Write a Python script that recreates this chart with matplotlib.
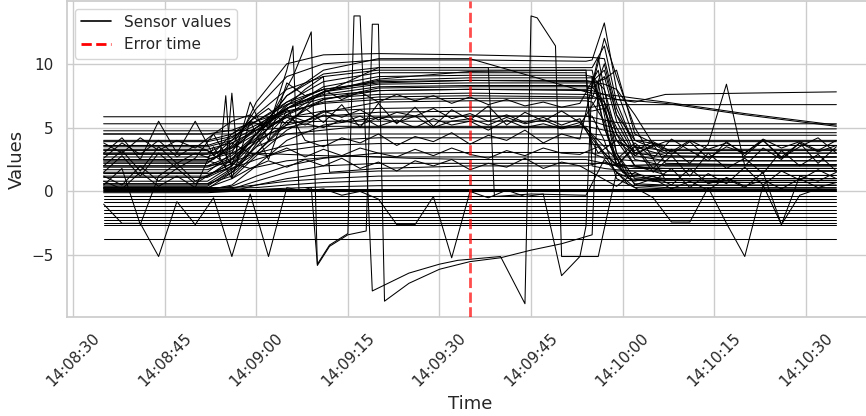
import numpy as np
import pandas as pd
import matplotlib
matplotlib.use("Agg")
import matplotlib.pyplot as plt
import matplotlib.dates as mdates
from matplotlib.lines import Line2D
import seaborn as sns

# ========= data (seconds after 14:08:35) =========
start = pd.Timestamp("2024-01-01 14:08:35")
error_time = pd.Timestamp("2024-01-01 14:09:35")

# sensors that stay flat the whole window
flat_levels = [-3.75, -2.65, -2.45, -2.25, -2.0, -1.7, -1.45, -1.15, -0.85,
               -0.6, -0.35, 0.0, 0.15, 0.2]

# sensors that ramp up, hold a plateau and drop back (values at ramp_t)
ramp_t = [0, 17, 21, 25, 30, 36, 45, 60, 79, 80, 82, 84, 87, 92, 105, 120]
ramp_values = [
    [1.5, 1.5, 3.0, 7.0, 10.0, 10.7, 10.8, 10.7, 10.5, 10.5, 10.4, 6.5, 3.5, 2.8, 2.7, 2.7],
    [2.2, 2.2, 3.6, 6.5, 9.0, 10.0, 10.3, 10.3, 10.2, 10.3, 13.2, 8.0, 4.0, 3.0, 3.0, 3.0],
    [0.8, 0.8, 2.0, 4.5, 7.5, 9.2, 9.7, 9.7, 9.7, 9.7, 11.4, 7.0, 3.5, 3.2, 3.2, 3.2],
    [3.0, 3.0, 4.0, 6.0, 8.0, 9.0, 9.5, 9.5, 9.5, 3.0, 2.6, 2.5, 2.4, 2.4, 2.4, 2.4],
    [2.5, 2.5, 3.2, 5.0, 7.0, 8.6, 9.3, 9.3, 9.3, 2.0, 1.8, 1.7, 1.6, 1.6, 1.6, 1.6],
    [1.1, 1.1, 2.0, 4.0, 6.5, 8.2, 9.0, 9.1, 9.1, 9.0, 8.0, 4.5, 2.0, 1.3, 1.25, 1.25],
    [0.5, 0.5, 1.5, 3.5, 6.0, 7.8, 8.7, 8.9, 8.9, 8.9, 6.5, 3.0, 1.0, 0.9, 0.85, 0.85],
    [3.6, 3.6, 4.2, 5.5, 7.0, 8.0, 8.5, 8.7, 8.7, 8.6, 9.5, 6.0, 4.0, 3.6, 3.6, 3.6],
    [2.0, 2.0, 2.8, 4.5, 6.5, 7.6, 8.2, 8.3, 8.3, 8.2, 7.0, 5.0, 2.5, 2.0, 2.0, 2.0],
    [4.0, 4.0, 4.5, 5.5, 6.8, 7.5, 7.9, 8.0, 7.9, 7.9, 7.6, 7.2, 7.0, 7.6, 7.7, 7.8],
    [2.7, 2.7, 3.5, 5.0, 6.5, 7.3, 7.6, 7.7, 7.6, 7.5, 7.0, 4.5, 3.0, 2.7, 2.7, 2.7],
    [1.7, 1.7, 2.5, 4.5, 7.5, 9.5, 10.4, 10.4, 7.8, 7.7, 7.6, 7.5, 7.3, 7.0, 6.1, 5.2],
    [4.5, 4.5, 4.8, 5.5, 6.3, 6.9, 7.2, 7.3, 7.3, 7.3, 7.3, 7.2, 7.1, 6.9, 6.0, 5.1],
    [0.3, 0.3, 1.0, 2.8, 4.8, 6.2, 7.0, 7.1, 7.1, 7.0, 5.5, 2.0, 0.6, 0.5, 0.5, 0.5],
    [3.3, 3.3, 3.8, 4.8, 5.8, 6.3, 6.5, 6.6, 6.6, 6.6, 6.8, 6.8, 6.8, 6.8, 6.8, 6.8],
    [2.5, 2.5, 3.0, 4.0, 5.2, 5.9, 6.2, 6.3, 6.3, 6.3, 6.5, 4.0, 2.0, 1.6, 1.6, 1.6],
    [0.1, 0.1, 0.5, 2.0, 4.0, 5.2, 5.8, 5.9, 5.9, 5.9, 4.0, 1.0, 0.3, 0.2, 0.2, 0.2],
    [5.85, 5.85, 5.85, 5.85, 5.85, 5.9, 5.9, 5.9, 5.9, 5.8, 5.6, 5.4, 5.3, 5.3, 5.3, 5.3],
    [5.3, 5.3, 5.3, 5.3, 5.4, 5.5, 5.5, 5.5, 5.5, 5.5, 5.2, 4.9, 4.9, 4.9, 4.9, 4.9],
    [4.75, 4.75, 4.75, 4.8, 5.0, 5.1, 5.1, 5.1, 5.1, 5.0, 4.8, 4.6, 4.6, 4.6, 4.6, 4.6],
    [4.5, 4.5, 4.5, 4.5, 4.5, 4.5, 4.5, 4.5, 4.5, 4.5, 4.4, 4.4, 4.4, 4.4, 4.4, 4.4],
    [2.0, 2.0, 2.3, 3.0, 3.6, 4.0, 4.2, 4.2, 4.2, 4.2, 4.0, 4.0, 4.0, 4.0, 4.0, 4.0],
    [1.4, 1.4, 1.8, 2.5, 3.2, 3.6, 3.75, 3.75, 3.75, 3.7, 3.6, 3.6, 3.6, 3.6, 3.6, 3.6],
    [0.2, 0.2, 0.4, 1.2, 2.0, 2.6, 3.0, 3.05, 3.05, 3.0, 3.0, 3.0, 3.0, 3.0, 3.0, 3.0],
    [3.0, 3.0, 3.0, 3.0, 2.9, 2.8, 2.7, 2.7, 2.7, 2.7, 2.7, 2.7, 2.7, 2.7, 2.7, 2.7],
    [0.0, 0.0, 0.2, 0.8, 1.5, 2.0, 2.2, 2.2, 2.2, 2.2, 2.2, 2.0, 2.0, 2.0, 2.0, 2.0],
    [-0.1, -0.1, 0.0, 0.5, 1.0, 1.4, 1.6, 1.6, 1.6, 1.6, 1.6, 1.6, 1.6, 1.6, 1.6, 1.6],
    [0.3, 0.3, 0.3, 0.5, 0.8, 1.0, 1.2, 1.25, 1.25, 1.25, 1.25, 1.25, 1.25, 1.25, 1.25, 1.25],
    [0.25, 0.25, 0.25, 0.3, 0.5, 0.7, 0.85, 0.85, 0.85, 0.85, 0.85, 0.85, 0.85, 0.85, 0.85, 0.85],
    [0.1, 0.1, 0.1, 0.15, 0.25, 0.35, 0.45, 0.47, 0.47, 0.47, 0.47, 0.47, 0.47, 0.47, 0.47, 0.47],
    [3.9, 3.9, 4.3, 5.2, 6.5, 7.8, 8.8, 9.4, 9.5, 9.5, 5.0, 2.2, 1.9, 1.8, 1.8, 1.8],
    [1.9, 1.9, 2.6, 4.2, 6.0, 7.2, 7.9, 8.0, 8.0, 8.1, 9.0, 5.5, 2.8, 2.4, 2.4, 2.4],
    [2.9, 2.9, 3.4, 4.8, 6.5, 7.8, 8.4, 8.5, 8.5, 8.5, 8.8, 9.5, 4.5, 3.3, 3.3, 3.3],
    [1.2, 1.2, 2.2, 4.5, 6.8, 8.0, 8.6, 8.7, 8.6, 8.6, 8.4, 8.0, 6.0, 2.2, 2.1, 2.1],
    [3.5, 3.5, 4.0, 5.0, 6.2, 7.0, 7.4, 7.5, 7.4, 7.3, 10.0, 6.0, 3.0, 3.9, 3.9, 3.9],
    [0.6, 0.6, 1.2, 3.0, 5.5, 7.2, 8.1, 8.2, 8.2, 8.2, 12.0, 9.0, 5.0, 0.9, 0.7, 0.7],
]

# noisy sensors, one value every 3 s
noisy_step = 3
noisy_values = [
    [-1.0, -2.5, -2.5, -5.1, -0.8, -2.6, -0.5, -5.1, -0.2, -5.1,
     0.3, 0.0, 0.2, -0.3, 0.0, -0.6, -2.6, -2.6, -0.4, -5.2,
     0.0, -0.5, 0.1, -0.4, -0.2, -6.6, -5.1, -5.1, 1.5, 0.3,
     -0.5, -2.4, -2.4, 0.3, -2.5, -5.1, 0.5, -2.6, -0.3, 0.2, 0.0],
    [0.5, 1.8, -2.6, 1.2, 2.2, 0.8, 1.5, 2.5, 3.5, 4.5,
     5.0, 5.3, 5.0, 5.6, 5.2, 5.8, 5.4, 5.9, 5.0, 5.5,
     5.7, 5.2, 5.8, 5.3, 5.6, 5.0, 5.4, 3.5, 1.5, 0.8,
     1.2, 0.5, 1.8, 0.6, 1.0, 0.3, 1.5, -2.6, 1.2, 0.8, 1.5],
    [3.0, 4.2, 2.5, 5.5, 3.0, 5.5, 2.8, 4.0, 5.5, 6.5,
     5.2, 6.5, 5.4, 6.8, 5.0, 6.9, 5.3, 6.6, 5.1, 6.4,
     5.6, 6.7, 5.2, 6.2, 5.5, 6.3, 5.4, 4.0, 2.5, 3.8,
     2.6, 4.1, 3.2, 2.4, 3.9, 2.8, 4.0, 2.6, 3.5, 4.2, 3.0],
    [2.0, 3.2, 1.6, 3.5, 2.2, 3.0, 2.5, 3.8, 3.0, 2.8,
     3.4, 2.7, 3.3, 2.8, 3.4, 3.0, 2.7, 3.3, 2.8, 3.4,
     2.9, 2.6, 3.2, 2.8, 3.4, 3.0, 2.9, 3.5, 2.0, 3.6,
     1.8, 3.3, 2.2, 3.7, 8.4, 2.0, 3.4, 2.5, 3.8, 2.2, 3.5],
    [3.8, 3.0, 4.2, 3.2, 4.0, 3.4, 4.5, 5.5, 6.0, 5.0,
     5.8, 5.2, 6.0, 5.4, 5.9, 5.1, 5.6, 5.0, 5.7, 5.2,
     5.5, 4.8, 5.6, 5.0, 5.3, 4.9, 5.2, 7.5, 4.0, 3.2,
     3.9, 3.1, 4.0, 3.3, 3.8, 3.0, 4.1, 3.4, 3.9, 3.2, 4.0],
    [1.2, 0.5, 2.0, 0.8, 1.8, 0.6, 1.5, 2.2, 1.8, 2.4,
     1.9, 2.5, 2.0, 2.6, 1.8, 2.3, 1.6, 2.4, 2.0, 2.5,
     1.7, 2.2, 1.9, 2.6, 1.8, 2.3, 2.0, 1.2, 0.4, 1.5,
     0.8, 1.8, 0.3, 1.4, 0.6, 1.9, 0.5, 1.6, 0.9, 1.7, 1.0],
    [2.6, 3.8, 2.9, 4.0, 2.7, 3.6, 3.0, 4.5, 5.5, 5.0,
     6.0, 5.5, 6.3, 5.8, 6.4, 5.6, 6.2, 5.9, 6.5, 5.7,
     6.1, 5.5, 6.0, 5.4, 5.8, 5.2, 5.7, 3.0, 4.0, 2.8,
     3.7, 2.9, 3.9, 2.6, 3.5, 3.0, 4.0, 2.7, 3.8, 3.1, 3.6],
    [1.5, 2.8, 1.2, 3.0, 1.8, 2.6, 4.5, 2.0, 7.0, 4.0,
     8.5, 7.5, 8.0, 7.2, 7.8, 7.0, 7.6, 7.1, 7.5, 6.9,
     7.4, 6.8, 7.2, 6.7, 7.0, 6.6, 6.9, 9.5, 2.0, 3.5,
     1.5, 2.8, 1.2, 3.0, 1.8, 2.6, 1.4, 3.2, 2.0, 2.9, 1.6],
    [0.8, 0.2, 1.5, 0.4, 1.2, 0.3, 3.5, 1.0, 5.5, 2.5,
     6.5, 4.0, 3.5, 4.2, 3.8, 4.5, 3.6, 4.3, 3.9, 4.6,
     3.7, 4.4, 4.0, 4.8, 3.8, 4.5, 4.1, 10.5, 3.0, 0.5,
     1.0, 0.2, 0.8, 0.1, 1.1, 0.4, 0.9, 0.2, 1.0, 0.3, 0.7],
]

# odd sensors with big jumps
pair_a_t = [0, 17, 22, 27, 31, 34, 35, 37, 40, 43, 44, 45, 46, 50, 55, 60, 65,
            70, 75, 80, 81, 83, 86, 92, 120]
pair_a_v = [0.4, 0.4, 2.0, 5.5, 9.0, 12.5, -5.8, -4.3, -3.4, -3.1, 13.1, 13.1,
            -8.6, -7.2, -6.1, -5.5, -5.2, -4.6, -4.1, -3.4, 8.5, 3.5, 1.0, 0.7, 0.7]

pair_b_t = [0, 17, 22, 27, 30, 31, 32, 34, 35, 37, 40, 41, 42, 44, 50, 55, 58,
            65, 69, 70, 71, 74, 75, 78, 79, 80, 82, 85, 92, 120]
pair_b_v = [0.2, 0.2, 1.8, 5.0, 9.5, 11.4, 0.0, 0.3, -5.7, -4.2, -3.3, 13.75,
            13.75, -7.8, -6.4, -5.7, -5.4, -5.1, -8.8, 13.75, 13.6, 11.4, -5.1,
            -5.1, -2.7, 9.0, 5.0, 1.5, 1.0, 1.0]

spike_d_t = [0, 17, 19, 20, 21, 24, 30, 40, 50, 60, 79, 81, 84, 90, 120]
spike_d_v = [3.2, 3.2, 2.5, 7.5, 1.0, 1.8, 2.4, 2.8, 2.6, 2.5, 2.5, 2.3, 2.0, 2.1, 2.1]

spike_e_t = [0, 17, 20, 21, 22, 25, 30, 40, 60, 79, 82, 86, 90, 120]
spike_e_v = [2.4, 2.4, 2.0, 7.7, 2.2, 3.5, 4.5, 5.0, 5.0, 5.0, 3.0, 1.2, 1.0, 1.0]

jump_f_t = [0, 17, 25, 35, 45, 63, 64, 70, 79, 82, 86, 92, 120]
jump_f_v = [0.6, 0.6, 3.0, 7.5, 9.7, 9.7, -0.4, -0.2, -0.3, 2.5, 0.5, 0.3, 0.3]

jump_g_t = [0, 17, 25, 33, 36, 37, 45, 60, 79, 82, 86, 92, 120]
jump_g_v = [2.3, 2.3, 4.5, 8.0, 9.0, 1.5, 1.8, 2.0, 2.0, 2.3, 1.8, 1.8, 1.8]


def to_time(secs):
    return start + pd.to_timedelta(np.asarray(secs, dtype=float), unit="s")


# ========= plot =========
sns.set_theme(style="whitegrid")
fig = plt.figure(figsize=(8.66, 4.16), dpi=100)
ax = fig.add_axes([67 / 866, 99 / 416, 806 / 866, 316 / 416])

lw = 0.75
end_t = [0, 120]
for lev in flat_levels:
    ax.plot(to_time(end_t), [lev, lev], color="black", linewidth=lw)

for vals in ramp_values:
    ax.plot(to_time(ramp_t), vals, color="black", linewidth=lw)

for vals in noisy_values:
    secs = noisy_step * np.arange(len(vals))
    ax.plot(to_time(secs), vals, color="black", linewidth=lw)

for tt, vv in [(pair_a_t, pair_a_v), (pair_b_t, pair_b_v), (spike_d_t, spike_d_v),
               (spike_e_t, spike_e_v), (jump_f_t, jump_f_v), (jump_g_t, jump_g_v)]:
    ax.plot(to_time(tt), vv, color="black", linewidth=lw)

ax.axvline(error_time, color="red", linestyle="--", linewidth=2, alpha=0.7, zorder=5)

ax.set_xlim(start - pd.Timedelta(seconds=6), start + pd.Timedelta(seconds=126))
ax.set_ylim(-9.84, 14.92)
ax.xaxis.set_major_locator(mdates.SecondLocator(bysecond=[0, 15, 30, 45]))
ax.xaxis.set_major_formatter(mdates.DateFormatter("%H:%M:%S"))
plt.setp(ax.get_xticklabels(), rotation=45)

ax.set_xlabel("Time", fontsize=13)
ax.set_ylabel("Values", fontsize=13)

handles = [Line2D([0], [0], color="black", linewidth=1.2),
           Line2D([0], [0], color="red", linestyle="--", linewidth=2)]
ax.legend(handles, ["Sensor values", "Error time"], loc="upper left", fontsize=11)

fig.savefig("out.png", dpi=100)
